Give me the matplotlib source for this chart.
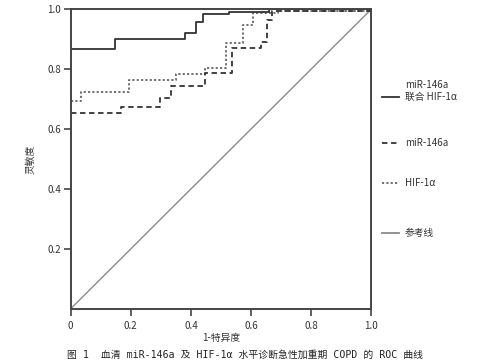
import matplotlib
matplotlib.use("Agg")
import matplotlib.pyplot as plt

plt.rcParams['font.family'] = ['Noto Sans CJK SC', 'DejaVu Sans']

# ROC step points (1-specificity, sensitivity)
comb_x = [0, 0.147, 0.38, 0.418, 0.44, 0.527, 0.66, 1.0]
comb_y = [0.867, 0.899, 0.921, 0.957, 0.982, 0.991, 1.0, 1.0]

mir_x = [0, 0.166, 0.297, 0.335, 0.448, 0.537, 0.634, 0.653, 0.67, 1.0]
mir_y = [0.652, 0.675, 0.702, 0.744, 0.788, 0.869, 0.891, 0.963, 0.993, 0.993]

hif_x = [0, 0.036, 0.194, 0.35, 0.448, 0.515, 0.573, 0.607, 0.689, 1.0]
hif_y = [0.694, 0.724, 0.763, 0.783, 0.802, 0.888, 0.948, 0.988, 0.995, 0.995]

ref_x = [0, 1]
ref_y = [0, 1]

labels = ["miR-146a\n联合 HIF-1α", "miR-146a", "HIF-1α", "参考线"]

fig = plt.figure(figsize=(4.9, 3.63), dpi=100)
ax = fig.add_axes([0.144, 0.149, 0.614, 0.826])

ax.plot(ref_x, ref_y, color="#8a8a8a", lw=1.0)
ax.step(hif_x, hif_y, where="post", color="#666666", lw=1.3, ls=(0, (1.2, 1.2)))
ax.step(mir_x, mir_y, where="post", color="#333333", lw=1.3, ls=(0, (3, 2)))
ax.step(comb_x, comb_y, where="post", color="#333333", lw=1.3)

ax.set_xlim(0, 1)
ax.set_ylim(0, 1)
ax.set_xticks([0, 0.2, 0.4, 0.6, 0.8, 1.0])
ax.set_xticklabels(["0", "0.2", "0.4", "0.6", "0.8", "1.0"])
ax.set_yticks([0.2, 0.4, 0.6, 0.8, 1.0])
ax.set_yticklabels(["0.2", "0.4", "0.6", "0.8", "1.0"])
ax.tick_params(labelsize=7, length=5, width=1.2, color="#444444", labelcolor="#333333", pad=2)
ax.tick_params(axis="x", pad=4)
for s in ax.spines.values():
    s.set_linewidth(1.4)
    s.set_color("#444444")

ax.set_xlabel("1-特异度", fontsize=7, color="#333333", labelpad=1)
ax.set_ylabel("灵敏度", fontsize=7, color="#333333", labelpad=8)

# legend outside on the right
styles = [("#333333", "-"), ("#333333", (0, (3, 2))), ("#666666", (0, (1.2, 1.2))), ("#8a8a8a", "-")]
ys = [97, 143, 183, 233]
for (c, ls), lab, yy in zip(styles, labels, ys):
    yf = 1 - yy / 363
    fig.add_artist(plt.Line2D([382 / 490, 399 / 490], [yf, yf], color=c, ls=ls, lw=1.3))
    off = 6 / 363 if "\n" in lab else 0
    fig.text(405 / 490, yf + off, lab, fontsize=7, color="#333333", va="center", linespacing=1.3)

fig.text(245 / 490, 1 - 355 / 363, "图 1  血清 miR-146a 及 HIF-1α 水平诊断急性加重期 COPD 的 ROC 曲线",
         fontsize=7.1, ha="center", va="center", color="#222222",
         family=["DejaVu Sans Mono", "Noto Sans CJK SC"])

fig.savefig("out.png", dpi=100)
